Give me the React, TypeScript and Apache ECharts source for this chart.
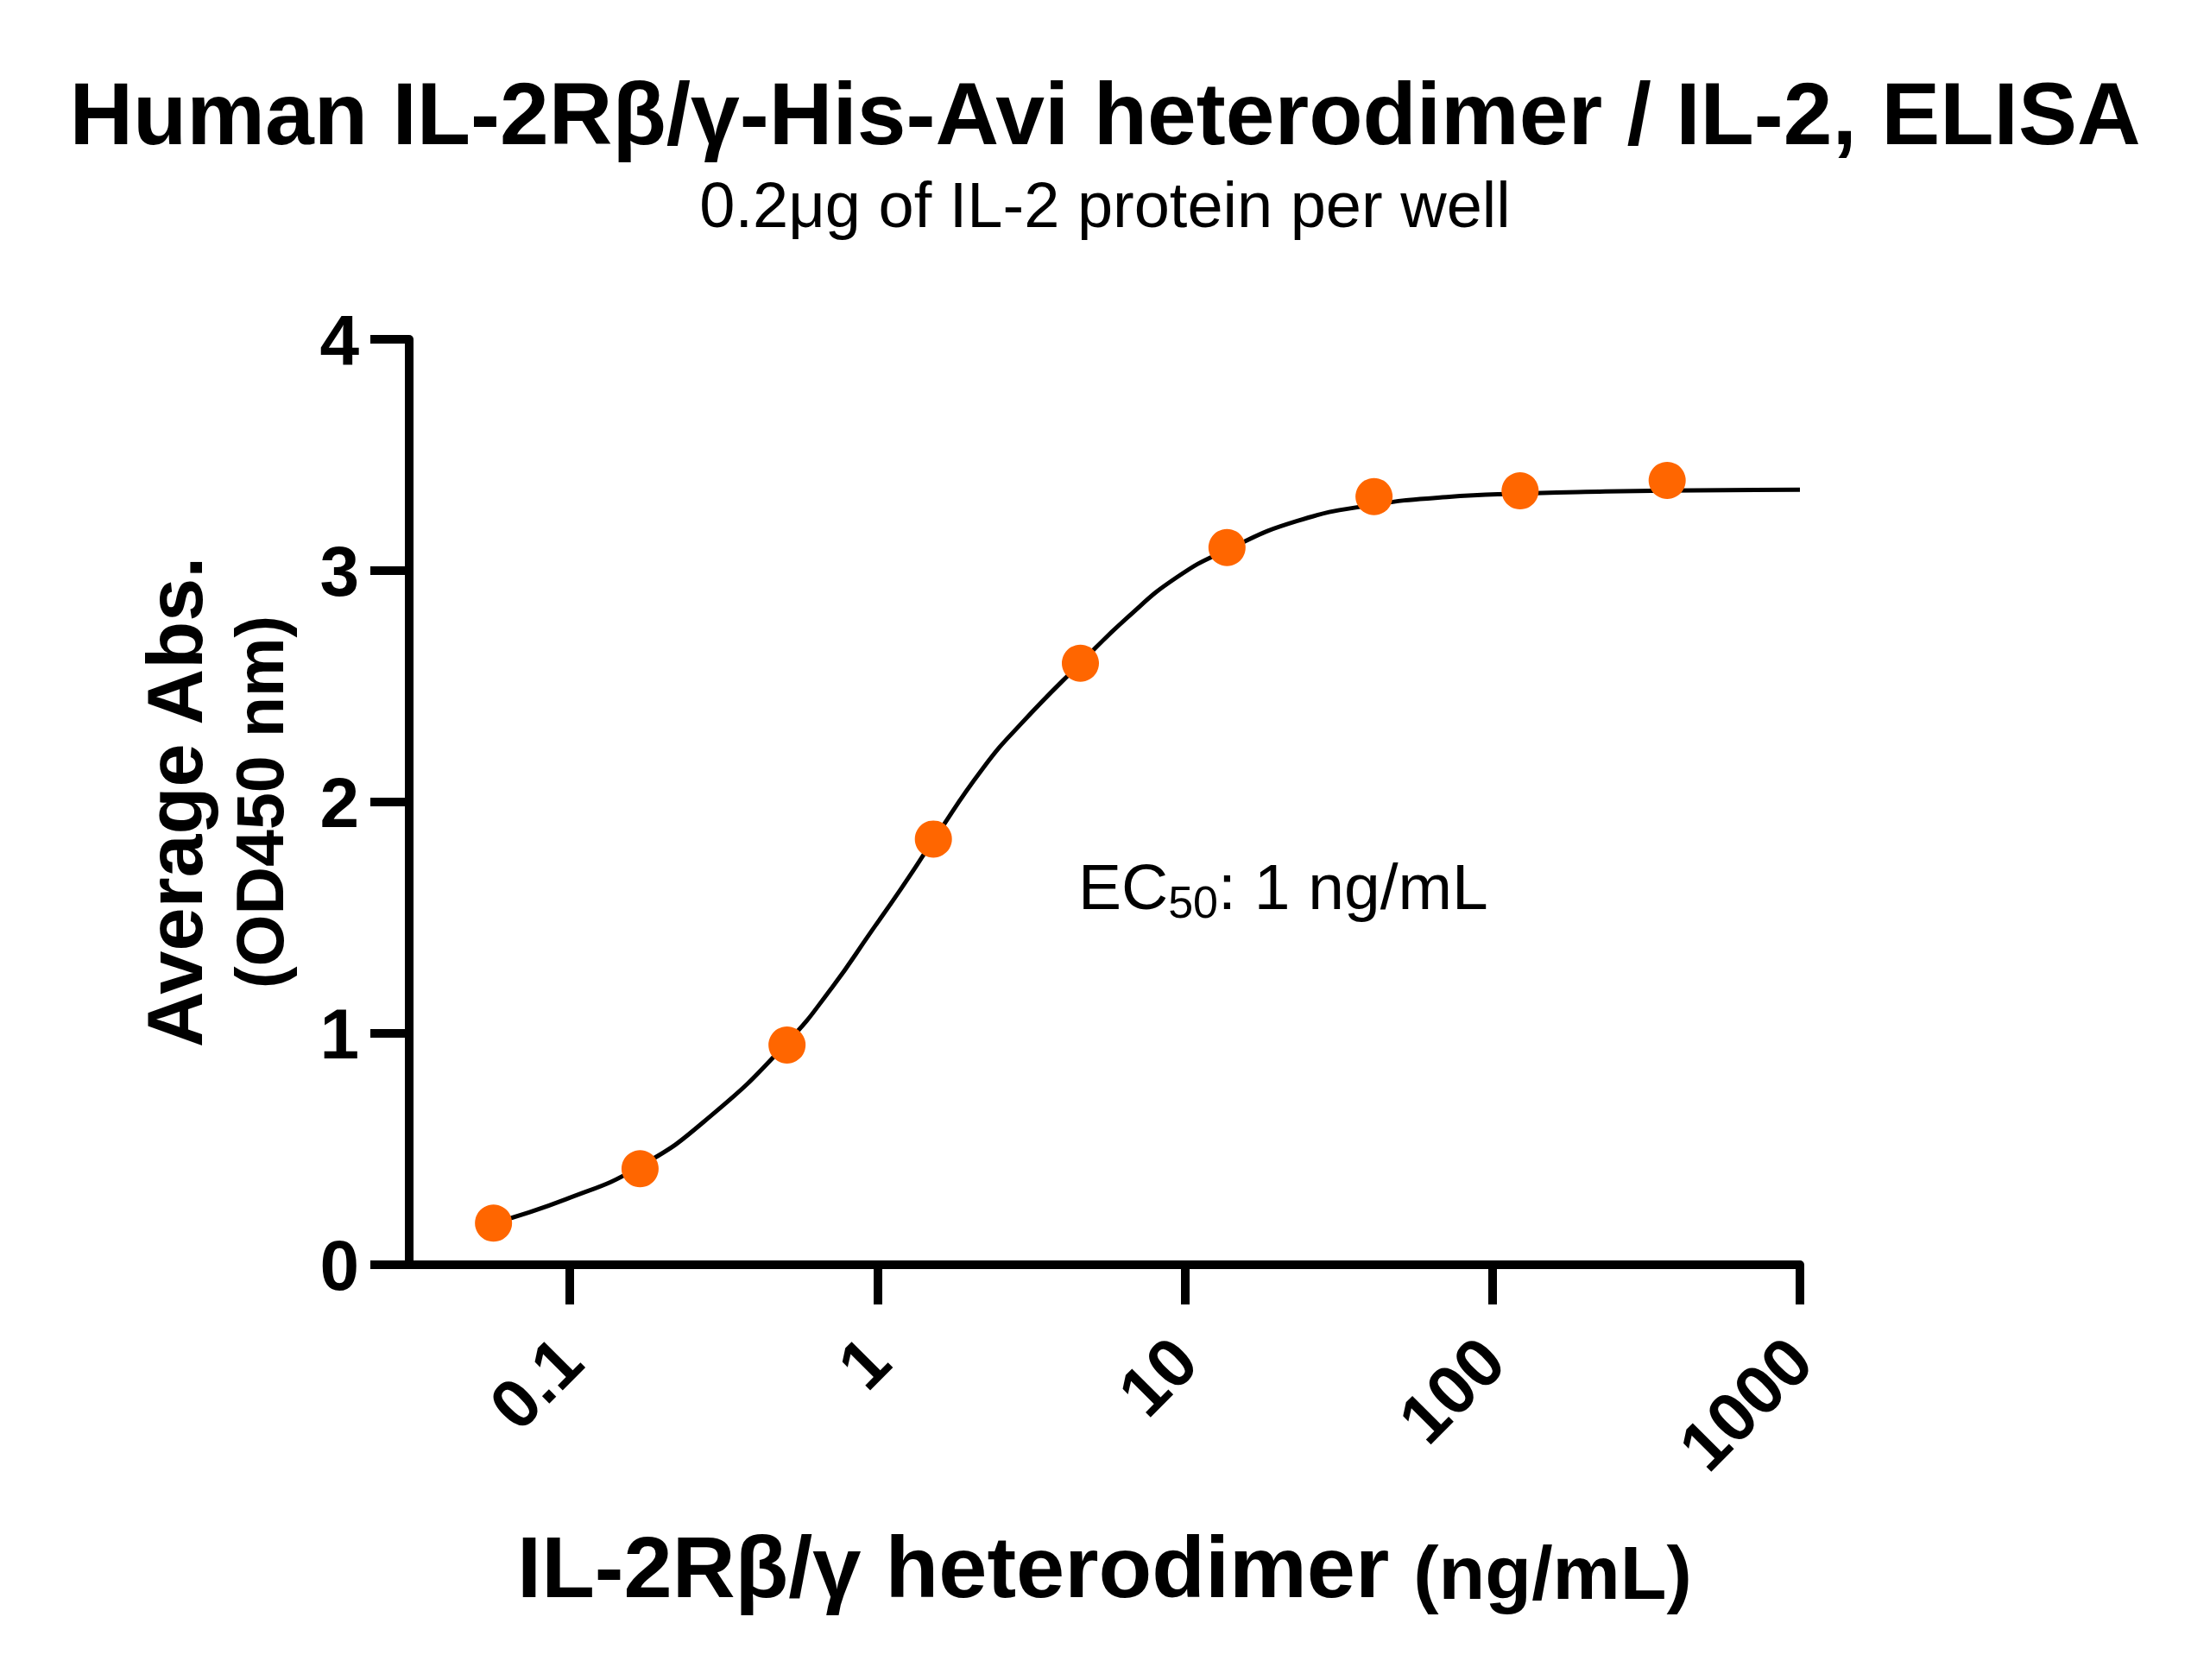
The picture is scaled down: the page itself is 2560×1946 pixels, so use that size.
import { useEffect, useRef } from 'react';
import * as echarts from 'echarts';

const FONT = '"Liberation Sans", Arial, Helvetica, sans-serif';

// measured points (3-fold dilution series)
const concentrations = [0.0564, 0.169, 0.508, 1.52, 4.57, 13.7, 41.2, 123, 370];
const absorbance = [0.18, 0.415, 0.95, 1.84, 2.6, 3.1, 3.32, 3.345, 3.39];

// fitted curve
const fitX = [0.0564, 0.097, 0.169, 0.288, 0.508, 0.713, 0.954, 1.186, 1.52, 2.2, 2.94, 4.57, 6.53, 9.38, 13.7, 23.2, 41.2, 71, 123, 233, 370, 1000];
const fitY = [0.18, 0.283, 0.425, 0.645, 0.96, 1.2, 1.44, 1.62, 1.835, 2.145, 2.34, 2.6, 2.8, 2.97, 3.09, 3.215, 3.285, 3.318, 3.333, 3.342, 3.346, 3.35];

const xTicks = [0.1, 1, 10, 100, 1000];

export default function App() {
  const chartRef = useRef<HTMLDivElement>(null);

  useEffect(() => {
    if (!chartRef.current) return;
    const chart = echarts.init(chartRef.current, undefined, { renderer: 'svg' });

    const option: echarts.EChartsOption = {
      animation: false,
      backgroundColor: '#fff',
      title: [
        {
          text: 'Human IL-2Rβ/γ-His-Avi heterodimer / IL-2, ELISA',
          left: 'center',
          top: 76,
          textStyle: { fontSize: 102, fontWeight: 'bold', color: '#000', fontFamily: FONT },
        },
        {
          text: '0.2μg of IL-2 protein per well',
          left: 'center',
          top: 195,
          textStyle: { fontSize: 74, fontWeight: 'normal', color: '#000', fontFamily: FONT },
        },
      ],
      grid: { left: 474, right: 475, top: 393, bottom: 481 },
      xAxis: {
        type: 'log',
        logBase: 10,
        min: 0.03,
        max: 1000,
        name: '{a|IL-2Rβ/γ heterodimer }{b|(ng/mL)}',
        nameLocation: 'middle',
        nameGap: 284,
        nameTextStyle: {
          rich: {
            a: { fontSize: 101, fontWeight: 'bold', color: '#000', fontFamily: FONT, lineHeight: 116, verticalAlign: 'bottom' },
            b: { fontSize: 88, fontWeight: 'bold', color: '#000', fontFamily: FONT, lineHeight: 108, verticalAlign: 'bottom' },
          },
        },
        axisLine: { lineStyle: { color: '#000', width: 10 } },
        axisTick: { length: 46, customValues: xTicks, lineStyle: { color: '#000', width: 10 } },
        axisLabel: {
          customValues: xTicks,
          rotate: 45,
          margin: 98,
          align: 'right',
          verticalAlign: 'middle',
          fontSize: 80,
          fontWeight: 'bold',
          color: '#000',
          fontFamily: FONT,
          formatter: (v: number) => String(Number(v.toPrecision(3))),
        },
        minorTick: { show: false },
        splitLine: { show: false },
      },
      yAxis: {
        type: 'value',
        min: 0,
        max: 4,
        interval: 1,
        name: '{a|Average Abs.}\n{b|(OD450 nm)}',
        nameLocation: 'middle',
        nameGap: 127,
        nameTextStyle: {
          rich: {
            a: { fontSize: 90, fontWeight: 'bold', color: '#000', fontFamily: FONT, lineHeight: 104 },
            b: { fontSize: 77, fontWeight: 'bold', color: '#000', fontFamily: FONT, lineHeight: 92 },
          },
        },
        axisLine: { show: true, lineStyle: { color: '#000', width: 10 } },
        axisTick: { show: true, length: 45, lineStyle: { color: '#000', width: 10 } },
        axisLabel: { margin: 58, fontSize: 82, fontWeight: 'bold', color: '#000', fontFamily: FONT },
        splitLine: { show: false },
      },
      graphic: [
        {
          type: 'text',
          left: 1249,
          top: 989,
          style: {
            text: '{a|EC}{b|50}{a|: 1 ng/mL}',
            rich: {
              a: { fontSize: 75, fontFamily: FONT, fill: '#000', lineHeight: 88 },
              b: { fontSize: 52, fontFamily: FONT, fill: '#000', lineHeight: 52, verticalAlign: 'bottom' },
            },
          },
        },
      ],
      series: [
        {
          type: 'line',
          data: fitX.map((x, i) => [x, fitY[i]]),
          showSymbol: false,
          smooth: true,
          lineStyle: { color: '#000', width: 5 },
          z: 2,
        },
        {
          type: 'scatter',
          data: concentrations.map((x, i) => [x, absorbance[i]]),
          symbol: 'circle',
          symbolSize: 43,
          itemStyle: { color: '#FF6600', opacity: 1 },
          z: 3,
        },
      ],
    };

    chart.setOption(option);
    return () => chart.dispose();
  }, []);

  return (
    <div
      ref={chartRef}
      style={{ position: 'absolute', left: 0, top: 0, width: 2560, height: 1946 }}
    />
  );
}
